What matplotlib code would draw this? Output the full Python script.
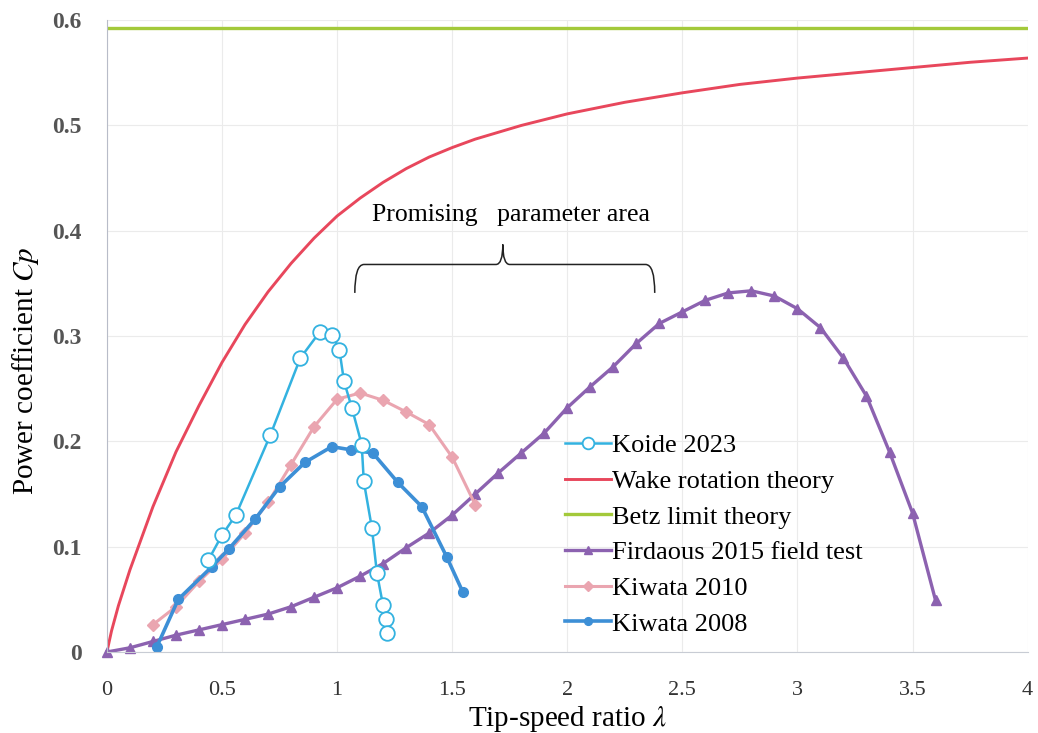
import numpy as np
import matplotlib
matplotlib.use("Agg")
import matplotlib.pyplot as plt
from matplotlib.path import Path
from matplotlib.patches import PathPatch

plt.rcParams['font.family'] = ['Liberation Serif', 'DejaVu Serif']
plt.rcParams['mathtext.fontset'] = 'stix'

# Koide 2023
koide_x = [0.44, 0.50, 0.56, 0.71, 0.84, 0.925, 0.98, 1.01, 1.03, 1.064, 1.107, 1.116, 1.151, 1.173, 1.199, 1.212, 1.216]
koide_y = [0.087, 0.111, 0.130, 0.206, 0.279, 0.304, 0.301, 0.287, 0.257, 0.232, 0.197, 0.162, 0.118, 0.075, 0.045, 0.031, 0.018]

# Wake rotation theory
wake_x = [0, 0.02, 0.05, 0.1, 0.15, 0.2, 0.3, 0.4, 0.5, 0.6, 0.7, 0.8, 0.9, 1.0, 1.1, 1.2, 1.3, 1.4, 1.5, 1.6,
          1.8, 2.0, 2.25, 2.5, 2.75, 3.0, 3.25, 3.5, 3.75, 4.0]
wake_y = [0, 0.020, 0.044, 0.078, 0.108, 0.138, 0.190, 0.234, 0.275, 0.311, 0.342, 0.369, 0.393, 0.414, 0.431, 0.446,
          0.459, 0.470, 0.479, 0.487, 0.500, 0.511, 0.522, 0.531, 0.539, 0.545, 0.550, 0.555, 0.560, 0.564]

# Betz limit
betz_x = [0, 4]
betz_y = [0.593, 0.593]

# Firdaous 2015 field test
fird_x = [round(0.1 * i, 1) for i in range(37)]
fird_y = [0.000, 0.004, 0.010, 0.016, 0.021, 0.026, 0.031, 0.036, 0.043, 0.052,
          0.061, 0.072, 0.084, 0.099, 0.113, 0.130, 0.150, 0.170, 0.189, 0.208,
          0.232, 0.252, 0.271, 0.293, 0.312, 0.323, 0.334, 0.341, 0.343, 0.338,
          0.326, 0.308, 0.279, 0.243, 0.190, 0.132, 0.049]

# Kiwata 2010
k10_x = [0.2, 0.3, 0.4, 0.5, 0.6, 0.7, 0.8, 0.9, 1.0, 1.1, 1.2, 1.3, 1.4, 1.5, 1.6]
k10_y = [0.026, 0.043, 0.067, 0.088, 0.113, 0.142, 0.178, 0.214, 0.240, 0.246, 0.239, 0.228, 0.216, 0.185, 0.140]

# Kiwata 2008
k08_x = [0.217, 0.31, 0.456, 0.53, 0.643, 0.751, 0.86, 0.977, 1.06, 1.155, 1.264, 1.368, 1.477, 1.546]
k08_y = [0.005, 0.050, 0.081, 0.098, 0.126, 0.157, 0.180, 0.195, 0.192, 0.189, 0.161, 0.138, 0.090, 0.057]

fig = plt.figure(figsize=(10.38, 7.33), dpi=100)
ax = fig.add_axes([0.103, 0.1105, 0.887, 0.862])

l_betz, = ax.plot(betz_x, betz_y, color='#A3C93A', lw=2.4, label='Betz limit theory')
l_wake, = ax.plot(wake_x, wake_y, color='#E8475C', lw=2.1, label='Wake rotation theory')
l_fird, = ax.plot(fird_x, fird_y, color='#8C62B0', lw=2.4, marker='^', ms=7,
                  label='Firdaous 2015 field test', clip_on=False)
l_k10, = ax.plot(k10_x, k10_y, color='#EAA5B0', lw=2.2, marker='D', ms=6.5, label='Kiwata 2010')
l_k08, = ax.plot(k08_x, k08_y, color='#3D8FD6', lw=2.6, marker='o', ms=7, label='Kiwata 2008')
l_koide, = ax.plot(koide_x, koide_y, color='#33B2E0', lw=1.8, marker='o', ms=10.5,
                   mfc='white', mec='#33B2E0', mew=1.3, label='Koide 2023')

ax.set_xlim(0, 4)
ax.set_ylim(0, 0.6)
ax.set_xticks(np.arange(0, 4.01, 0.5))
ax.set_xticklabels(['0', '0.5', '1', '1.5', '2', '2.5', '3', '3.5', '4'])
ax.set_yticks(np.arange(0, 0.61, 0.1))
ax.set_yticklabels(['0', '0.1', '0.2', '0.3', '0.4', '0.5', '0.6'])
ax.tick_params(length=0)
ax.tick_params(axis='x', labelsize=16, labelcolor='#333333', pad=21)
ax.tick_params(axis='y', pad=18)
for t in ax.get_yticklabels():
    t.set_fontsize(17)
    t.set_fontweight('bold')
    t.set_color('#555555')
ax.grid(True, color='#EBEBEB', lw=0.8)
ax.set_axisbelow(True)
for s in ['top', 'right']:
    ax.spines[s].set_visible(False)
ax.spines['left'].set_color('#B8BCC8')
ax.spines['bottom'].set_color('#C8CCD4')

ax.set_xlabel(r'Tip-speed ratio $\lambda$', fontsize=21, labelpad=3)
ax.set_ylabel(r'Power coefficient $\it{Cp}$', fontsize=21)
ax.yaxis.set_label_coords(-0.072, 0.445)

# brace annotation
x0, xm, x1 = 1.077, 1.72, 2.38
yb, yh, yt = 0.341, 0.368, 0.387
verts = [(x0, yb), (x0, yh), (x0 + 0.04, yh),
         (xm - 0.03, yh), (xm, yh), (xm, yt),
         (xm, yh), (xm + 0.03, yh),
         (x1 - 0.04, yh), (x1, yh), (x1, yb)]
codes = [Path.MOVETO, Path.CURVE3, Path.CURVE3,
         Path.LINETO, Path.CURVE3, Path.CURVE3,
         Path.CURVE3, Path.CURVE3,
         Path.LINETO, Path.CURVE3, Path.CURVE3]
ax.add_patch(PathPatch(Path(verts, codes), fill=False, lw=1.1, color='#222222'))
ax.text(1.755, 0.415, 'Promising   parameter area', ha='center', va='center', fontsize=18.5)

leg = ax.legend([l_koide, l_wake, l_betz, l_fird, l_k10, l_k08],
                ['Koide 2023', 'Wake rotation theory', 'Betz limit theory',
                 'Firdaous 2015 field test', 'Kiwata 2010', 'Kiwata 2008'],
                loc='upper left', bbox_to_anchor=(0.497, 0.345), frameon=False,
                fontsize=19, handlelength=1.75, handletextpad=0.05, labelspacing=0.46,
                borderaxespad=0, borderpad=0, markerscale=0.8)

fig.savefig('out.png', dpi=100)
